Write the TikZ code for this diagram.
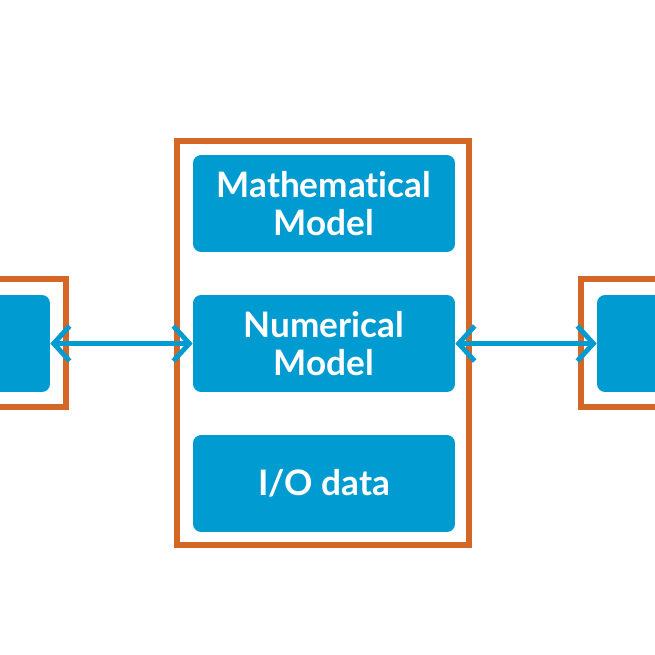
\documentclass[tikz,border=0pt]{standalone}
\usepackage{fontspec}
\setmainfont{Lato}[RawFeature={-liga;-clig;-dlig;-calt}]
\usetikzlibrary{arrows.meta}
\definecolor{boxblue}{RGB}{0,155,208}
\definecolor{frameorange}{RGB}{212,102,38}
\begin{document}
\begin{tikzpicture}
        [x=0.02cm, y=-0.02cm,
        block/.style={rectangle, rounded corners=0.16cm, fill=boxblue, text=white, align=center,
                      minimum width=5.24cm, minimum height=1.94cm,
                      font=\bfseries\fontsize{20}{22}\selectfont},
        frame/.style={rectangle, draw=frameorange, line width=3.4pt},
        link/.style={draw=boxblue, line width=2.8pt, {Straight Barb[length=3.2mm,width=7mm]}-{Straight Barb[length=3.2mm,width=7mm]}}]
        \useasboundingbox (0,0) rectangle (655,655);
        \node[frame, minimum width=5.84cm, minimum height=8.08cm] (core) at (323,343) {};
        \node[frame, minimum width=5.86cm, minimum height=2.56cm] (leftframe) at (-80.5,343) {};
        \node[frame, minimum width=5.86cm, minimum height=2.56cm] (rightframe) at (727.5,343) {};
        \node[block] (math) at (324,203.5) {Mathematical\\Model};
        \node[block] (num) at (324,343.5) {Numerical\\Model};
        \node[block] (io) at (324,483.5) {I/O data};
        \node[block] (left) at (-81,343.5) {};
        \node[block] (right) at (728,343.5) {};
        
        \draw[link] (left) -- (num);
        \draw[link] (num) -- (right);
    \end{tikzpicture}
\end{document}
